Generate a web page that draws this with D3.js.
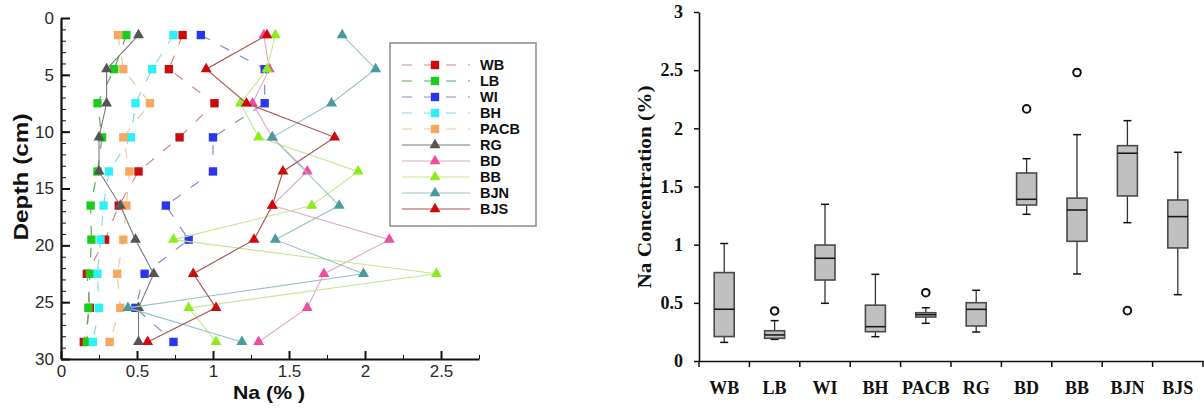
<!DOCTYPE html>
<html>
<head>
<meta charset="utf-8">
<script src="https://cdn.jsdelivr.net/npm/d3@7"></script>
<style>
  body { margin: 0; background: #fff; }
  svg { display: block; }
</style>
</head>
<body>
<svg id="chart" width="1204" height="409"></svg>
<script>
// ---- Depth profiles (left panel): Na (%) per site at each sampling depth ----
const depthCm = [1.5, 4.5, 7.5, 10.5, 13.5, 16.5, 19.5, 22.5, 25.5, 28.5];
const naWB   = [0.80, 0.71, 1.01, 0.78, 0.51, 0.38, 0.29, 0.17, 0.19, 0.15];
const naLB   = [0.43, 0.35, 0.24, 0.27, 0.24, 0.195, 0.20, 0.19, 0.18, 0.17];
const naWI   = [0.92, 1.34, 1.34, 1.00, 1.00, 0.69, 0.84, 0.55, 0.49, 0.74];
const naBH   = [0.74, 0.60, 0.49, 0.46, 0.315, 0.28, 0.26, 0.24, 0.25, 0.21];
const naPACB = [0.375, 0.41, 0.585, 0.41, 0.45, 0.43, 0.41, 0.37, 0.39, 0.32];
const naRG   = [0.51, 0.30, 0.30, 0.25, 0.25, 0.39, 0.49, 0.61, 0.51, 0.51];
const naBD   = [1.335, 1.37, 1.26, 1.39, 1.62, 1.39, 2.16, 1.73, 1.62, 1.30];
const naBB   = [1.41, 1.355, 1.18, 1.30, 1.955, 1.65, 0.74, 2.47, 0.84, 1.02];
const naBJN  = [1.85, 2.07, 1.78, 1.39, null, 1.83, 1.41, 1.99, 0.44, 1.19];
const naBJS  = [1.355, 0.955, 1.22, 1.80, 1.46, 1.39, 1.27, 0.87, 1.02, 0.57];

const depthTicks = [0, 5, 10, 15, 20, 25, 30];
const naTicks = [0, 0.5, 1, 1.5, 2, 2.5];
const naTickLabels = ["0", "0.5", "1", "1.5", "2", "2.5"];

// ---- Box plot summary (right panel) ----
const boxCats = ["WB", "LB", "WI", "BH", "PACB", "RG", "BD", "BB", "BJN", "BJS"];
const boxMin = [0.16, 0.186, 0.496, 0.209, 0.324, 0.249, 1.261, 0.748, 1.189, 0.570];
const boxQ1  = [0.21, 0.195, 0.696, 0.252, 0.378, 0.301, 1.341, 1.029, 1.419, 0.972];
const boxMed = [0.445, 0.224, 0.883, 0.295, 0.398, 0.444, 1.390, 1.298, 1.786, 1.241];
const boxQ3  = [0.76, 0.26, 0.997, 0.48, 0.415, 0.501, 1.616, 1.400, 1.851, 1.384];
const boxMax = [1.01, 0.347, 1.347, 0.745, 0.458, 0.608, 1.739, 1.946, 2.066, 1.794];
const boxOutliers = [[], [0.43], [], [], [0.587], [], [2.167], [2.48], [0.433], []];
const concTicks = [0, 0.5, 1, 1.5, 2, 2.5, 3];
const concTickLabels = ["0", "0.5", "1", "1.5", "2", "2.5", "3"];

const svg = d3.select("#chart");

// ================= Left panel: depth profiles =================
const sans = "'Liberation Sans', Arial, sans-serif";
const xL = d3.scaleLinear().domain([0, 2.75]).range([61, 479]);
const yL = d3.scaleLinear().domain([0, 30]).range([18, 359]);

const series = [
  { name: "WB",   values: naWB,   shape: "square",   fill: "#cc0a0a", line: "#c98a8a", dashed: true },
  { name: "LB",   values: naLB,   shape: "square",   fill: "#1ccc1c", line: "#5aaa5a", dashed: true },
  { name: "WI",   values: naWI,   shape: "square",   fill: "#2a36ee", line: "#8a8ac4", dashed: true },
  { name: "BH",   values: naBH,   shape: "square",   fill: "#2ef0f8", line: "#8ad8e8", dashed: true },
  { name: "PACB", values: naPACB, shape: "square",   fill: "#f6a860", line: "#f0c8a0", dashed: true },
  { name: "RG",   values: naRG,   shape: "triangle", fill: "#555555", line: "#7a7a7a", dashed: false },
  { name: "BD",   values: naBD,   shape: "triangle", fill: "#ee4c9c", line: "#e0a8cc", dashed: false },
  { name: "BB",   values: naBB,   shape: "triangle", fill: "#8cec1c", line: "#c4e890", dashed: false },
  { name: "BJN",  values: naBJN,  shape: "triangle", fill: "#4a9c9c", line: "#98c4c4", dashed: false },
  { name: "BJS",  values: naBJS,  shape: "triangle", fill: "#cc0a0a", line: "#a85050", dashed: false }
];

const squareSym = d3.symbol(d3.symbolSquare, 70);
const triSym = d3.symbol(d3.symbolTriangle, 52);
const symFor = s => s.shape === "square" ? squareSym() : triSym();

const plotL = svg.append("g");
series.forEach(s => {
  const pts = depthCm.map((d, i) => ({ depth: d, na: s.values[i] })).filter(p => p.na != null);
  const g = plotL.append("g");
  g.append("path")
    .datum(pts)
    .attr("fill", "none")
    .attr("stroke", s.line)
    .attr("stroke-width", s.dashed ? 1.2 : 1.1)
    .attr("stroke-dasharray", s.dashed ? "10,12" : null)
    .attr("d", d3.line().x(p => xL(p.na)).y(p => yL(p.depth)));
  g.selectAll("path.mark")
    .data(pts)
    .join("path")
    .attr("class", "mark")
    .attr("transform", p => `translate(${xL(p.na)},${yL(p.depth)})`)
    .attr("d", symFor(s))
    .attr("fill", s.fill);
});

// Axes: ticks point into the plot area
const yAxisL = svg.append("g").attr("transform", `translate(${xL(0)},0)`)
  .call(d3.axisLeft(yL).tickValues(depthTicks).tickSize(-9).tickSizeOuter(0).tickPadding(7));
svg.append("g").attr("transform", `translate(${xL(0)},0)`)
  .call(d3.axisLeft(yL).tickValues(d3.range(0, 31, 1)).tickSize(-5).tickSizeOuter(0).tickFormat(""))
  .call(g => g.select(".domain").remove());
const xAxisL = svg.append("g").attr("transform", `translate(0,${yL(30)})`)
  .call(d3.axisBottom(xL).tickValues(naTicks).tickSize(-8).tickSizeOuter(0).tickPadding(6)
    .tickFormat((d, i) => naTickLabels[i]));
svg.append("g").attr("transform", `translate(0,${yL(30)})`)
  .call(d3.axisBottom(xL).tickValues([0.25, 0.75, 1.25, 1.75, 2.25, 2.75]).tickSize(-4).tickSizeOuter(0).tickFormat(""))
  .call(g => g.select(".domain").remove());

[yAxisL, xAxisL].forEach(a => {
  a.select(".domain").attr("stroke", "#111").attr("stroke-width", 2.2);
  a.selectAll(".tick line").attr("stroke", "#111").attr("stroke-width", 2);
  a.selectAll(".tick text").attr("font-family", sans).attr("font-size", 17).attr("fill", "#2a2a2a");
});
svg.selectAll(".tick line").attr("stroke", "#111");

svg.append("text")
  .attr("transform", "translate(28,177) rotate(-90)")
  .attr("text-anchor", "middle")
  .attr("font-family", sans).attr("font-weight", "bold").attr("font-size", 20)
  .attr("textLength", 127).attr("lengthAdjust", "spacingAndGlyphs")
  .attr("fill", "#111")
  .text("Depth (cm)");
svg.append("text")
  .attr("x", 269).attr("y", 399)
  .attr("text-anchor", "middle")
  .attr("font-family", sans).attr("font-weight", "bold").attr("font-size", 19)
  .attr("textLength", 72).attr("lengthAdjust", "spacingAndGlyphs")
  .attr("fill", "#111")
  .text("Na (% )");

// Legend
const leg = svg.append("g");
leg.append("rect").attr("x", 390).attr("y", 43).attr("width", 146).attr("height", 183)
  .attr("fill", "#fff").attr("stroke", "#8a8a8a").attr("stroke-width", 1.5);
series.forEach((s, i) => {
  const yy = 65 + i * 16;
  leg.append("line").attr("x1", 402).attr("x2", 470).attr("y1", yy).attr("y2", yy)
    .attr("stroke", s.line).attr("stroke-width", 1.2)
    .attr("stroke-dasharray", s.dashed ? "10,12" : null);
  leg.append("path").attr("transform", `translate(435,${yy})`).attr("d", symFor(s)).attr("fill", s.fill);
  leg.append("text").attr("x", 480).attr("y", yy + 5)
    .attr("font-family", sans).attr("font-weight", "bold").attr("font-size", 14.5).attr("fill", "#111")
    .text(s.name);
});

// ================= Right panel: box plots =================
const serif = "'Liberation Serif', 'Times New Roman', serif";
const xR = d3.scaleBand().domain(boxCats).range([699, 1203]);
const yR = d3.scaleLinear().domain([0, 3]).range([361, 12]);
const boxW = 20, capW = 8;

const boxes = boxCats.map((c, i) => ({
  cat: c, min: boxMin[i], q1: boxQ1[i], med: boxMed[i], q3: boxQ3[i], max: boxMax[i], out: boxOutliers[i]
}));

const bg = svg.append("g");
boxes.forEach(b => {
  const cx = xR(b.cat) + xR.bandwidth() / 2;
  const g = bg.append("g");
  // whiskers
  g.append("line").attr("x1", cx).attr("x2", cx).attr("y1", yR(b.max)).attr("y2", yR(b.q3))
    .attr("stroke", "#333").attr("stroke-width", 1.3);
  g.append("line").attr("x1", cx).attr("x2", cx).attr("y1", yR(b.q1)).attr("y2", yR(b.min))
    .attr("stroke", "#333").attr("stroke-width", 1.3);
  [b.max, b.min].forEach(v => {
    g.append("line").attr("x1", cx - capW / 2).attr("x2", cx + capW / 2).attr("y1", yR(v)).attr("y2", yR(v))
      .attr("stroke", "#111").attr("stroke-width", 1.5);
  });
  // box
  g.append("rect").attr("x", cx - boxW / 2).attr("width", boxW)
    .attr("y", yR(b.q3)).attr("height", yR(b.q1) - yR(b.q3))
    .attr("fill", "#c0c0c0").attr("stroke", "#4a4a4a").attr("stroke-width", 1.6);
  g.append("line").attr("x1", cx - boxW / 2).attr("x2", cx + boxW / 2).attr("y1", yR(b.med)).attr("y2", yR(b.med))
    .attr("stroke", "#1a1a1a").attr("stroke-width", 1.6);
  // outliers
  b.out.forEach(v => {
    g.append("circle").attr("cx", cx).attr("cy", yR(v)).attr("r", 3.8)
      .attr("fill", "#fff").attr("stroke", "#111").attr("stroke-width", 2);
  });
});

const yAxisR = svg.append("g").attr("transform", "translate(699,0)")
  .call(d3.axisLeft(yR).tickValues(concTicks).tickSize(5).tickSizeOuter(0).tickPadding(11)
    .tickFormat((d, i) => concTickLabels[i]));
const xAxisR = svg.append("g").attr("transform", `translate(0,${yR(0)})`)
  .call(d3.axisBottom(xR).tickSize(0).tickSizeOuter(0).tickPadding(20));
// category boundary ticks
svg.append("g").selectAll("line")
  .data(boxCats.map(c => xR(c)).concat([xR.range()[1]]))
  .join("line")
  .attr("x1", d => d).attr("x2", d => d).attr("y1", yR(0)).attr("y2", yR(0) + 6)
  .attr("stroke", "#111").attr("stroke-width", 1.5);

[yAxisR, xAxisR].forEach(a => {
  a.select(".domain").attr("stroke", "#111").attr("stroke-width", 1.6);
  a.selectAll(".tick line").attr("stroke", "#111").attr("stroke-width", 1.5);
  a.selectAll(".tick text").attr("font-family", serif).attr("font-weight", "bold")
    .attr("font-size", 18).attr("fill", "#111");
});

svg.append("text")
  .attr("transform", "translate(651,187) rotate(-90)")
  .attr("text-anchor", "middle")
  .attr("font-family", serif).attr("font-weight", "bold").attr("font-size", 19)
  .attr("textLength", 203).attr("lengthAdjust", "spacingAndGlyphs")
  .attr("fill", "#111")
  .text("Na Concentration (%)");
</script>
</body>
</html>
